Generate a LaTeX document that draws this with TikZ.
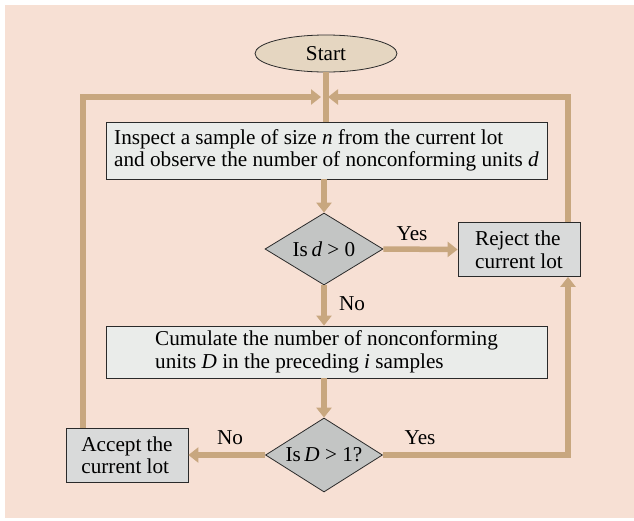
\documentclass[tikz,border=0pt]{standalone}
\usepackage{fontspec}
\setmainfont{Liberation Serif}
\usetikzlibrary{arrows.meta,shapes.geometric}
\definecolor{bgc}{HTML}{F7E0D4}
\definecolor{flowc}{HTML}{C8A77F}
\definecolor{widefill}{HTML}{EAECEA}
\definecolor{smallfill}{HTML}{D9DADA}
\definecolor{diafill}{HTML}{C3C5C4}
\definecolor{startfill}{HTML}{E5D6C1}
\definecolor{edgec}{HTML}{2A2A2A}
\begin{document}
\begin{tikzpicture}[x=1pt,y=-1pt,
  font=\fontsize{21.2}{22.5}\selectfont,
  startnode/.style={ellipse,draw=edgec,line width=0.8pt,fill=startfill,minimum width=142pt,minimum height=37pt,inner sep=0pt},
  widebox/.style={rectangle,draw=edgec,line width=0.8pt,fill=widefill,minimum width=441pt,align=left,inner sep=0pt},
  smallbox/.style={rectangle,draw=edgec,line width=0.8pt,fill=smallfill,minimum width=122pt,minimum height=54pt,align=left,inner sep=0pt},
  decision/.style={diamond,draw=edgec,line width=0.8pt,fill=diafill,aspect=1.62,inner sep=0pt},
  flowline/.style={draw=flowc,line width=5.5pt},
  flowarrow/.style={flowline,-{Triangle[width=15pt,length=10pt]}},
  lbl/.style={inner sep=0pt}]
\useasboundingbox (0,0) rectangle (634,520);
\fill[white] (0,0) rectangle (634,520);
\fill[bgc] (5,5) rectangle (634,518);

\node[startnode] (start) at (326,53.5) {Start};
\node[widebox,minimum height=57pt] (inspect) at (326.5,150.5)
  {Inspect a sample of size \textit{n} from the current lot\\and observe the number of nonconforming units \textit{d}};
\node[decision,minimum width=118pt,minimum height=72pt] (d1) at (324,249) {Is\,\textit{d} {>} 0};
\node[smallbox] (reject) at (519,249.5) {Reject the\\current lot};
\node[widebox,minimum height=52pt] (cumul) at (326.5,352)
  {Cumulate the number of nonconforming\\units \textit{D} in the preceding \textit{i} samples};
\node[decision,minimum width=117pt,minimum height=74pt] (d2) at (324,455) {Is\,\textit{D} {>} 1?};
\node[smallbox] (accept) at (127,455) {Accept the\\current lot};

\coordinate (J) at (324,97);
\coordinate (lt) at (83,97);
\coordinate (rt) at (568,97);

\node[lbl] (yes1) at (412,234) {Yes};
\node[lbl] (no1) at (352,304) {No};
\node[lbl] (no2) at (230,438) {No};
\node[lbl] (yes2) at (420,438) {Yes};

\draw[flowline] (start.south) -- (inspect.north -| start.south);
\draw[flowarrow] (accept.north -| lt) -- (lt) -- ([xshift=-3pt]J);
\draw[flowarrow] (reject.north -| rt) -- (rt) -- ([xshift=4pt]J);
\draw[flowarrow] (inspect.south -| d1.north) -- (d1.north);
\draw[flowarrow] (d1.east) -- (reject.west);
\draw[flowarrow] (d1.south) -- (cumul.north -| d1.south);
\draw[flowarrow] (cumul.south -| d2.north) -- (d2.north);
\draw[flowarrow] (d2.west) -- (accept.east);
\draw[flowarrow] (d2.east) -- (d2.east -| rt) -- (reject.south -| rt);
\end{tikzpicture}
\end{document}
